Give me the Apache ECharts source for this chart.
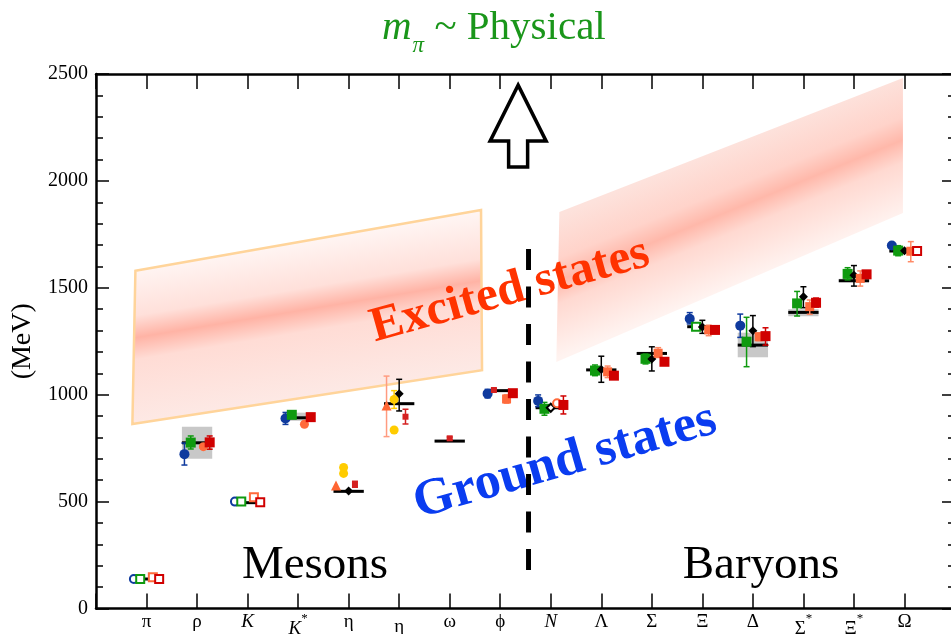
<!DOCTYPE html>
<html>
<head>
<meta charset="utf-8">
<script src="https://cdn.jsdelivr.net/npm/echarts@6/dist/echarts.min.js"></script>
<style>
  html, body { margin: 0; padding: 0; background: #fff; }
  #main { width: 951px; height: 634px; }
</style>
</head>
<body>
<div id="main"></div>
<script>
// Hadron spectrum at physical pion mass: lattice results vs. experiment (MeV)
const tickLabels = ['π', 'ρ', 'K', 'K*', 'η', 'η′', 'ω', 'ϕ', 'N', 'Λ', 'Σ', 'Ξ', 'Δ', 'Σ*', 'Ξ*', 'Ω'];
const massTicks = [0, 500, 1000, 1500, 2000, 2500];

// experimental masses and widths (grey boxes)
const expMass = [138, 775, 495, 892, 548, 958, 783, 1019, 939, 1116, 1193, 1318, 1232, 1385, 1533, 1672];
const expLow  = [null, 700, null, 878, null, null, null, null, null, null, null, null, 1175, 1367, 1526, null];
const expHigh = [null, 850, null, 916, null, null, null, null, null, null, null, null, 1290, 1400, 1542, null];

// lattice groups
const blueMass   = [138, 722, 500, 889, null, null, null, 1005, 971, null, null, 1355, 1323, null, null, 1698];
const blueMinus  = [0, 51, 0, 28, 0, 0, 0, 20, 27, 0, 0, 24, 55, 0, 0, 0];
const bluePlus   = [0, 52, 0, 28, 0, 0, 0, 20, 28, 0, 0, 29, 54, 0, 0, 0];
const blueInputs = ['π', 'K'];

const greenMass   = [138, 776, 500, 906, null, null, null, null, 934, 1113, 1168, 1318, 1248, 1427, 1565, 1674];
const greenMinus  = [0, 30, 0, 6, 0, 0, 0, 0, 30, 24, 24, 0, 117, 59, 28, 24];
const greenPlus   = [0, 31, 0, 6, 0, 0, 0, 0, 30, 26, 22, 0, 114, 56, 29, 23];
const greenInputs = ['π', 'K', 'Ξ'];

const blackMass   = [null, null, null, null, 550, 1004, null, null, 939, 1118, 1167, 1317, 1299, 1458, 1559, 1673];
const blackMinus  = [0, 0, 0, 0, 0, 80, 0, 0, 0, 60, 56, 30, 74, 51, 51, 8];
const blackPlus   = [0, 0, 0, 0, 0, 68, 0, 0, 0, 62, 57, 31, 71, 47, 45, 8];
const blackInputs = ['N'];

const orangeMass   = [146, 757, 520, 862, null, null, null, 980, 960, 1107, 1194, 1303, 1271, 1412, 1544, 1671];
const orangeMinus  = [0, 10, 0, 8, 0, 0, 0, 20, 0, 27, 20, 27, 18, 36, 36, 49];
const orangePlus   = [0, 10, 0, 8, 0, 0, 0, 20, 0, 27, 26, 22, 18, 31, 35, 45];
const orangeInputs = ['π', 'K', 'N'];
const orangeRound  = ['ρ', 'K*', 'N'];

const redMass   = [138, 777, 497, 895, null, null, null, 1007, 952, 1089, 1154, 1303, 1274, 1430, 1563, 1672];
const redMinus  = [0, 32, 0, 0, 0, 0, 0, 0, 42, 0, 0, 0, 42, 20, 0, 0];
const redPlus   = [0, 30, 0, 0, 0, 0, 0, 0, 42, 0, 0, 0, 39, 22, 0, 0];
const redInputs = ['π', 'K', 'Ω'];

// flavour-singlet / isoscalar results
const smallRedMass  = [null, null, null, null, 581, 897, 796, 1022, null, null, null, null, null, null, null, null];
const smallRedMinus = [0, 0, 0, 0, 14, 34, 6, 6, 0, 0, 0, 0, 0, 0, 0, 0];
const smallRedPlus  = [0, 0, 0, 0, 14, 35, 6, 6, 0, 0, 0, 0, 0, 0, 0, 0];

const yellowUpper      = [null, null, null, null, 660, 978, null, null, null, null, null, null, null, null, null, null];
const yellowUpperMinus = [0, 0, 0, 0, 0, 42, 0, 0, 0, 0, 0, 0, 0, 0, 0, 0];
const yellowUpperPlus  = [0, 0, 0, 0, 0, 41, 0, 0, 0, 0, 0, 0, 0, 0, 0, 0];
const yellowLower      = [null, null, null, null, 632, 835, null, null, null, null, null, null, null, null, null, null];

const triangleMass  = [null, null, null, null, 575, 949, null, null, null, null, null, null, null, null, null, null];
const triangleMinus = [0, 0, 0, 0, 0, 145, 0, 0, 0, 0, 0, 0, 0, 0, 0, 0];
const trianglePlus  = [0, 0, 0, 0, 0, 138, 0, 0, 0, 0, 0, 0, 0, 0, 0, 0];

// excited-state bands: corners (category position, MeV) TL, TR, BR, BL
const mesonBandPos   = [-0.22, 6.62, 6.64, -0.28];
const mesonBandMass  = [1580, 1864, 1115, 863];
const baryonBandPos  = [8.17, 14.97, 14.97, 8.11];
const baryonBandMass = [1855, 2481, 1850, 1153];

// meson / baryon divider and the "higher states" arrow
const dividerPos = 7.56;
const dividerSpan = [1681, 180];
const arrowTip = [7.354, 2448];

// ---------------------------------------------------------------
const SERIF = '"Liberation Serif", "Times New Roman", "DejaVu Serif", serif';
const BLUE = '#0f3a9e', GREEN = '#0f9a0f', ORANGE = '#ff6a3c', RED = '#d00000',
      YELLOW = '#ffcc00', TRI = '#ff6633', TITLE_GREEN = '#1a961a';
const smallRedSlot = [0, 0, 0, 0, 0.125, 0.125, 0, -0.125, 0, 0, 0, 0, 0, 0, 0, 0];

function tickText(lbl) {
  const star = lbl.endsWith('*');
  let base = star ? lbl.slice(0, -1) : lbl;
  const primed = base.endsWith('′');
  if (primed) base = base.slice(0, -1);
  const latin = /[A-Za-z]/.test(base);
  if (star) return '{' + (latin ? 'il' : 'gl') + '|' + base + '}{sup|*}';
  if (primed) return '{gl2|' + base + '}';
  return '{' + (latin ? 'i' : 'g') + '|' + base + '}';
}

function slotOf(off, i) { return Array.isArray(off) ? off[i] : off; }

function errorBars(mass, minus, plus, off, color, z) {
  const data = [];
  mass.forEach((m, i) => {
    if (m == null) return;
    const a = minus[i] || 0, b = plus[i] || 0;
    if (!a && !b) return;
    data.push([i + slotOf(off, i), m - a, m + b]);
  });
  return {
    type: 'custom', silent: true, z: z, data: data,
    encode: { x: 0, y: [1, 2] },
    renderItem: function (params, api) {
      const x = api.value(0);
      const lo = api.coord([x, api.value(1)]);
      const hi = api.coord([x, api.value(2)]);
      const c = 3;
      const st = () => ({ stroke: color, lineWidth: 1.5 });
      return {
        type: 'group',
        children: [
          { type: 'line', shape: { x1: lo[0], y1: lo[1], x2: hi[0], y2: hi[1] }, style: st() },
          { type: 'line', shape: { x1: lo[0] - c, y1: lo[1], x2: lo[0] + c, y2: lo[1] }, style: st() },
          { type: 'line', shape: { x1: hi[0] - c, y1: hi[1], x2: hi[0] + c, y2: hi[1] }, style: st() }
        ]
      };
    }
  };
}

function markers(mass, off, color, shapeFn, size, z) {
  const data = [];
  mass.forEach((m, i) => {
    if (m == null) return;
    const s = shapeFn(i);
    const hollow = s.indexOf('empty') === 0;
    data.push({
      value: [i + slotOf(off, i), m],
      symbol: s,
      symbolSize: hollow ? 8 : size,
      itemStyle: hollow
        ? { color: color, borderColor: color, borderWidth: 2, opacity: 1 }
        : { color: color, opacity: 1 }
    });
  });
  return { type: 'scatter', silent: true, z: z, data: data, itemStyle: { opacity: 1 } };
}

function shapeWith(filled, hollow, inputs) {
  return i => (inputs.indexOf(tickLabels[i]) >= 0 ? hollow : filled);
}

function bandSeries(pos, mass, stops, border) {
  return {
    type: 'custom', silent: true, z: 1,
    data: [[0, 0]],
    renderItem: function (params, api) {
      const p = pos.map((x, k) => api.coord([x, mass[k]]));
      // gradient runs across the band, perpendicular to its slanted edges
      let dx = (p[1][0] - p[0][0]) + (p[2][0] - p[3][0]);
      let dy = (p[1][1] - p[0][1]) + (p[2][1] - p[3][1]);
      const len = Math.hypot(dx, dy); dx /= len; dy /= len;
      const nx = -dy, ny = dx;
      const cx = (p[0][0] + p[1][0] + p[2][0] + p[3][0]) / 4;
      const cy = (p[0][1] + p[1][1] + p[2][1] + p[3][1]) / 4;
      const proj = q => (q[0] - cx) * nx + (q[1] - cy) * ny;
      const t0 = proj([(p[0][0] + p[1][0]) / 2, (p[0][1] + p[1][1]) / 2]);
      const t1 = proj([(p[3][0] + p[2][0]) / 2, (p[3][1] + p[2][1]) / 2]);
      const grad = new echarts.graphic.LinearGradient(
        cx + nx * t0, cy + ny * t0, cx + nx * t1, cy + ny * t1, stops, true);
      const style = { fill: grad };
      if (border) { style.stroke = border; style.lineWidth = 2.5; style.lineJoin = 'miter'; }
      return { type: 'polygon', shape: { points: p }, style: style };
    }
  };
}

const expSeries = {
  type: 'custom', silent: true, z: 2,
  data: expMass.map((m, i) => [i, m, expLow[i] == null ? m : expLow[i], expHigh[i] == null ? m : expHigh[i]]),
  encode: { x: 0, y: 1 },
  renderItem: function (params, api) {
    const i = api.value(0), m = api.value(1), lo = api.value(2), hi = api.value(3);
    const half = 0.3;
    const children = [];
    if (hi > lo) {
      const a = api.coord([i - half, hi]), b = api.coord([i + half, lo]);
      children.push({ type: 'rect', shape: { x: a[0], y: a[1], width: b[0] - a[0], height: b[1] - a[1] },
                      style: { fill: '#c8c8c8' } });
    }
    const L = api.coord([i - half, m]), R = api.coord([i + half, m]);
    children.push({ type: 'line', shape: { x1: L[0], y1: L[1], x2: R[0], y2: R[1] },
                    style: { stroke: '#000', lineWidth: 3 } });
    return { type: 'group', children: children };
  }
};

const arrowSeries = {
  type: 'custom', silent: true, z: 30,
  data: [arrowTip],
  renderItem: function (params, api) {
    const t = api.coord([api.value(0), api.value(1)]);
    const rel = [[0, 0], [28, 56], [9.5, 56], [9.5, 82], [-9.5, 82], [-9.5, 56], [-28, 56]];
    return {
      type: 'polygon',
      shape: { points: rel.map(q => [t[0] + q[0], t[1] + q[1]]) },
      style: { fill: '#fff', stroke: '#000', lineWidth: 3.5, lineJoin: 'miter' }
    };
  }
};

const axisLineStyle = { color: '#000', width: 2.5 };
const tickStyle = { color: '#000', width: 1.5 };
const titleBase = { fontFamily: SERIF, fontWeight: 'normal', color: TITLE_GREEN, verticalAlign: 'bottom' };

const option = {
  animation: false,
  backgroundColor: '#fff',
  title: {
    text: '{m|m}{s|π}{t| ~ Physical}',
    left: 377, top: 3,
    textStyle: {
      fontWeight: 'normal',
      rich: {
        m: Object.assign({}, titleBase, { fontStyle: 'italic', fontSize: 41, padding: [0, 0, 8, 0] }),
        s: Object.assign({}, titleBase, { fontStyle: 'italic', fontSize: 23, padding: [0, 0, 0, 1] }),
        t: Object.assign({}, titleBase, { fontSize: 41, padding: [0, 0, 8, 0] })
      }
    }
  },
  grid: { left: 96, right: -4, top: 74, bottom: 25.5, containLabel: false, outerBoundsMode: 'none' },
  xAxis: [
    {
      type: 'value', position: 'bottom', min: -1, max: 16, interval: 1,
      splitLine: { show: false },
      axisLine: { onZero: false, lineStyle: axisLineStyle },
      axisTick: { inside: true, length: 15, lineStyle: tickStyle },
      axisLabel: {
        margin: 4, color: '#000', fontFamily: SERIF, fontSize: 19,
        showMinLabel: true, showMaxLabel: true,
        formatter: function (v) {
          const i = Math.round(v);
          return i >= 0 && i < tickLabels.length ? tickText(tickLabels[i]) : '';
        },
        rich: {
          g:   { fontFamily: SERIF, fontSize: 19, color: '#000' },
          i:   { fontFamily: SERIF, fontSize: 19, color: '#000', fontStyle: 'italic' },
          il:  { fontFamily: SERIF, fontSize: 19, color: '#000', fontStyle: 'italic', verticalAlign: 'bottom', padding: [7, 0, 0, 0] },
          gl:  { fontFamily: SERIF, fontSize: 19, color: '#000', verticalAlign: 'bottom', padding: [7, 0, 0, 0] },
          gl2: { fontFamily: SERIF, fontSize: 19, color: '#000', verticalAlign: 'bottom', padding: [5, 0, 0, 0] },
          sup: { fontFamily: SERIF, fontSize: 13, color: '#000', verticalAlign: 'bottom', padding: [0, 0, 13, 0] }
        }
      }
    },
    {
      type: 'value', position: 'top', min: -1, max: 16, interval: 1,
      splitLine: { show: false },
      axisLine: { onZero: false, lineStyle: axisLineStyle },
      axisTick: { inside: true, length: 15, lineStyle: tickStyle },
      axisLabel: { show: false }
    }
  ],
  yAxis: [
    {
      type: 'value', position: 'left', min: massTicks[0], max: massTicks[massTicks.length - 1],
      interval: massTicks[1] - massTicks[0],
      splitLine: { show: false },
      axisLine: { show: true, onZero: false, lineStyle: axisLineStyle },
      axisTick: { show: true, inside: true, length: 13, lineStyle: tickStyle },
      minorTick: { show: true, splitNumber: 5, length: 7, lineStyle: tickStyle },
      axisLabel: { margin: 8, color: '#000', fontFamily: SERIF, fontSize: 20, formatter: v => String(v) },
      name: '(MeV)', nameLocation: 'middle', nameRotate: 90, nameGap: 55,
      nameTextStyle: { fontFamily: SERIF, fontSize: 28, color: '#000' }
    },
    {
      type: 'value', position: 'right', min: massTicks[0], max: massTicks[massTicks.length - 1],
      interval: massTicks[1] - massTicks[0],
      splitLine: { show: false },
      axisLine: { show: true, onZero: false, lineStyle: axisLineStyle },
      axisTick: { show: true, inside: true, length: 13, lineStyle: tickStyle },
      minorTick: { show: true, splitNumber: 5, length: 7, lineStyle: tickStyle },
      axisLabel: { show: false }
    }
  ],
  graphic: [
    { type: 'text', x: 315, y: 566, z: 10,
      style: { text: 'Mesons', font: '47px ' + SERIF, fill: '#000', align: 'center', verticalAlign: 'middle' } },
    { type: 'text', x: 761, y: 566, z: 10,
      style: { text: 'Baryons', font: '47px ' + SERIF, fill: '#000', align: 'center', verticalAlign: 'middle' } },
    { type: 'text', x: 510, y: 291, z: 10, rotation: 15.5 * Math.PI / 180,
      style: { text: 'Excited states', font: 'bold 49px ' + SERIF, fill: '#ff3300', align: 'center', verticalAlign: 'middle' } },
    { type: 'text', x: 565, y: 462, z: 10, rotation: 16 * Math.PI / 180,
      style: { text: 'Ground states', font: 'bold 52px ' + SERIF, fill: '#0a3cf0', align: 'center', verticalAlign: 'middle' } }
  ],
  series: [
    bandSeries(mesonBandPos, mesonBandMass, [
      { offset: 0, color: '#fff5f3' }, { offset: 0.3, color: '#ffe0da' },
      { offset: 0.44, color: '#ffb3a5' }, { offset: 0.58, color: '#ffdcd5' },
      { offset: 1, color: '#fde9e5' }], '#ffd49a'),
    bandSeries(baryonBandPos, baryonBandMass, [
      { offset: 0, color: '#fde2dc' }, { offset: 0.3, color: '#ffd3ca' },
      { offset: 0.46, color: '#ffb8aa' }, { offset: 0.62, color: '#ffd9d1' },
      { offset: 1, color: '#fff3f0' }], null),
    expSeries,
    {
      type: 'line', silent: true, z: 20, symbol: 'none',
      data: [[dividerPos, dividerSpan[0]], [dividerPos, dividerSpan[1]]],
      lineStyle: { color: '#000', width: 5, type: [21, 16.5], cap: 'butt' }
    },
    errorBars(triangleMass, triangleMinus, trianglePlus, -0.25, '#ff9b80', 4),
    errorBars(yellowUpper, yellowUpperMinus, yellowUpperPlus, -0.1, YELLOW, 4),
    errorBars(blueMass, blueMinus, bluePlus, -0.25, BLUE, 4),
    errorBars(greenMass, greenMinus, greenPlus, -0.125, GREEN, 4),
    errorBars(blackMass, blackMinus, blackPlus, 0, '#000', 4),
    errorBars(orangeMass, orangeMinus, orangePlus, 0.125, '#ff8a66', 4),
    errorBars(redMass, redMinus, redPlus, 0.25, RED, 4),
    errorBars(smallRedMass, smallRedMinus, smallRedPlus, smallRedSlot, '#d42020', 4),
    markers(triangleMass, -0.25, TRI, () => 'triangle', 10, 5),
    markers(yellowUpper, -0.1, YELLOW, () => 'circle', 9, 5),
    markers(yellowLower, -0.1, YELLOW, () => 'circle', 9, 5),
    markers(blueMass, -0.25, BLUE, shapeWith('circle', 'emptyCircle', blueInputs), 10, 5),
    markers(greenMass, -0.125, GREEN, shapeWith('rect', 'emptyRect', greenInputs), 10, 5),
    markers(blackMass, 0, '#000', shapeWith('diamond', 'emptyDiamond', blackInputs), 9, 5),
    markers(orangeMass, 0.125, ORANGE, i => {
      const round = orangeRound.indexOf(tickLabels[i]) >= 0;
      const hollow = orangeInputs.indexOf(tickLabels[i]) >= 0;
      return (hollow ? 'empty' : '') + (round ? (hollow ? 'Circle' : 'circle') : (hollow ? 'Rect' : 'rect'));
    }, 9, 5),
    markers(redMass, 0.25, RED, shapeWith('rect', 'emptyRect', redInputs), 10, 5),
    markers(smallRedMass, smallRedSlot, '#d42020', () => 'rect', 6, 5),
    arrowSeries
  ]
};

const chart = echarts.init(document.getElementById('main'), null, { width: 951, height: 634 });
chart.setOption(option);
</script>
</body>
</html>
